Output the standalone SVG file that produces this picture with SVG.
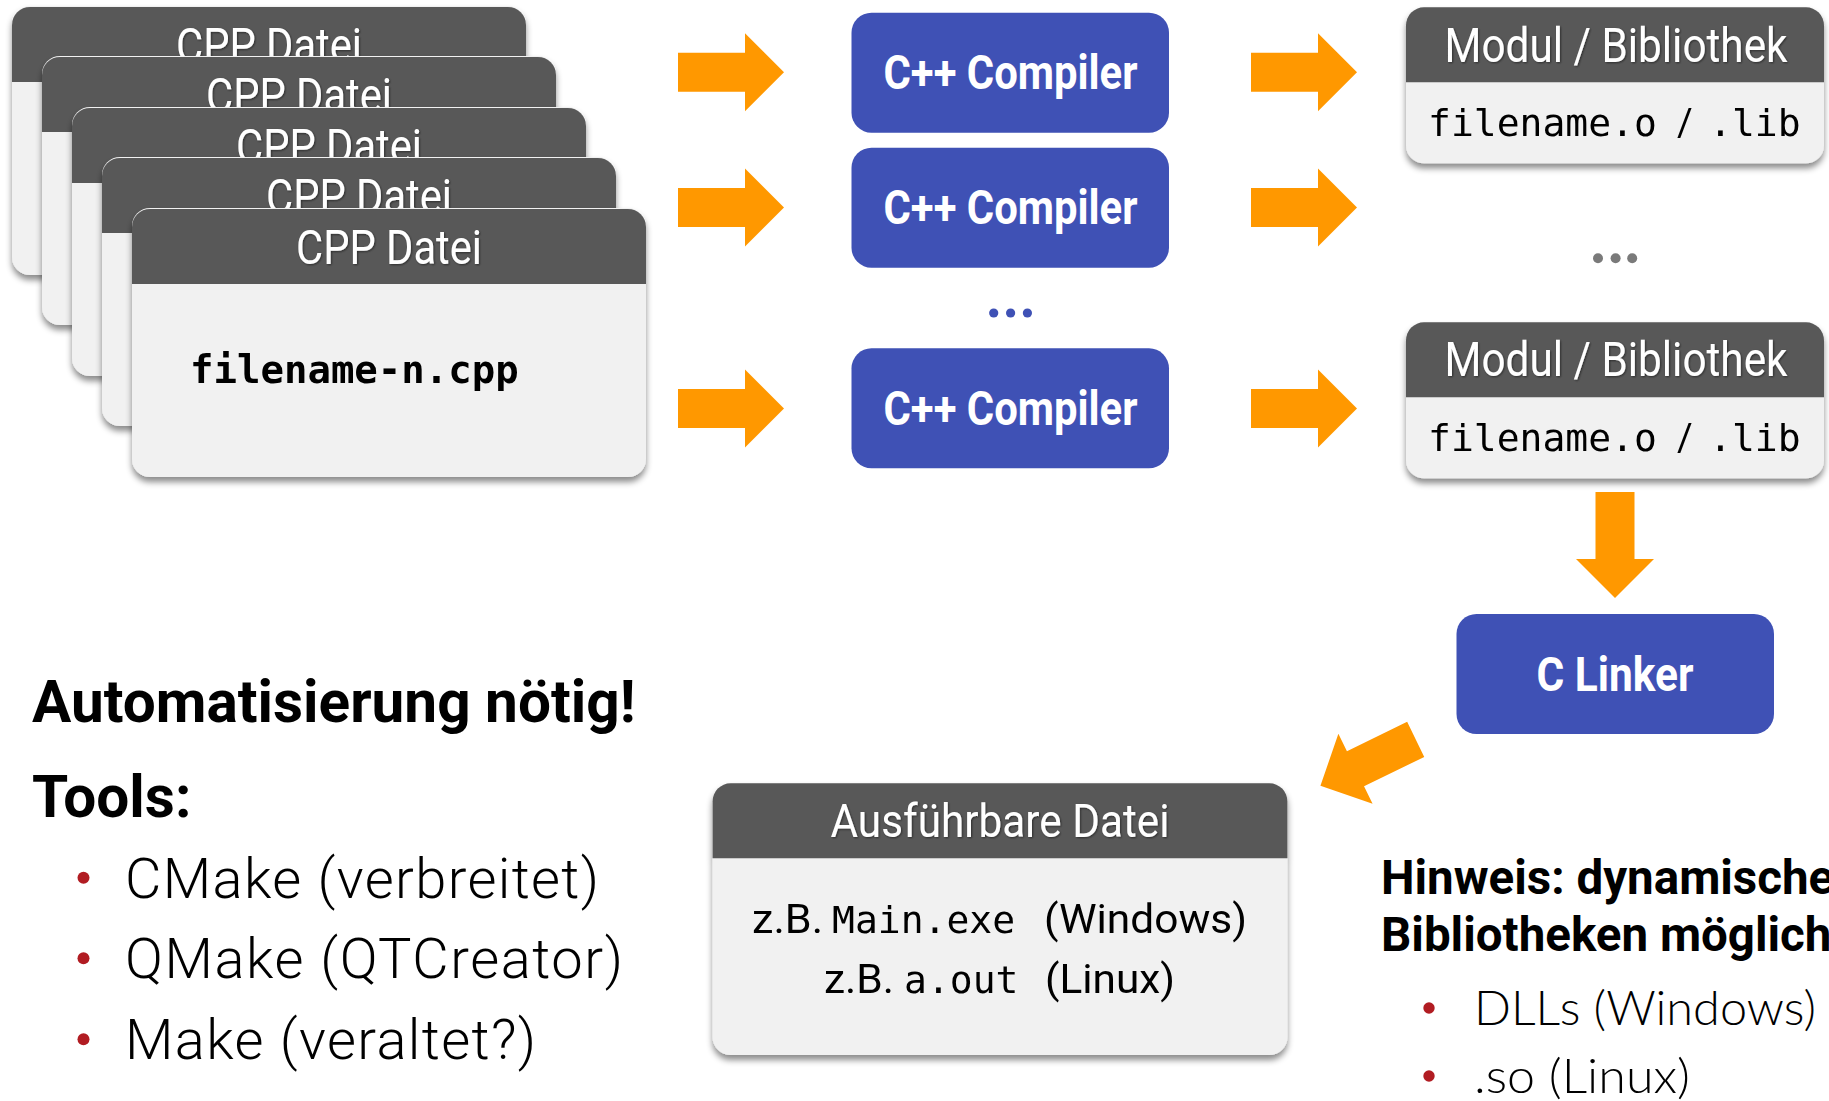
<svg xmlns="http://www.w3.org/2000/svg" width="1829" height="1101" viewBox="0 0 1829 1101">
<defs>
<style>
.hdr{fill:#595959}
.body{fill:#f1f1f1}
.htxt{font-family:Roboto,"Liberation Sans",sans-serif;fill:#fff;text-anchor:middle}
.btxt{font-family:Roboto,"Liberation Sans",sans-serif;font-weight:bold;fill:#fff;text-anchor:middle}
.blue{fill:#3f51b5}
.mono{font-family:"DejaVu Sans Mono","Liberation Mono",monospace;fill:#000}
.prop{font-family:Roboto,"Liberation Sans",sans-serif;fill:#000}
.arrow{fill:#ff9800}
.dotr{fill:#b11c22}
</style>
<filter id="sh" x="-10%" y="-10%" width="120%" height="130%">
<feDropShadow dx="0" dy="5" stdDeviation="3" flood-color="#000" flood-opacity="0.45"/>
</filter>
<filter id="tsh" x="-10%" y="-20%" width="120%" height="140%">
<feDropShadow dx="1" dy="1" stdDeviation="1" flood-color="#000" flood-opacity="0.5"/>
</filter>
<path id="arr" d="M0,-19.5 H67 V-39 L106,0 L67,39 V19.5 H0 Z"/>
</defs>
<rect width="1829" height="1101" fill="#fff"/>

<g id="cpp1" filter="url(#sh)">
<rect class="body" x="12" y="6" width="514" height="269" rx="18"/>
<path class="hdr" d="M12,82 V25 A18,18 0 0 1 30,7 H508 A18,18 0 0 1 526,25 V82 Z"/>
<text class="htxt" x="269" y="61.5" font-size="48" textLength="186" lengthAdjust="spacingAndGlyphs" filter="url(#tsh)">CPP Datei</text>
</g>
<g id="cpp2" filter="url(#sh)">
<rect class="body" x="42" y="56" width="514" height="269" rx="18"/>
<path class="hdr" d="M42,132 V75 A18,18 0 0 1 60,57 H538 A18,18 0 0 1 556,75 V132 Z"/>
<text class="htxt" x="299" y="111.5" font-size="48" textLength="186" lengthAdjust="spacingAndGlyphs" filter="url(#tsh)">CPP Datei</text>
</g>
<g id="cpp3" filter="url(#sh)">
<rect class="body" x="72" y="107" width="514" height="269" rx="18"/>
<path class="hdr" d="M72,183 V126 A18,18 0 0 1 90,108 H568 A18,18 0 0 1 586,126 V183 Z"/>
<text class="htxt" x="329" y="162.5" font-size="48" textLength="186" lengthAdjust="spacingAndGlyphs" filter="url(#tsh)">CPP Datei</text>
</g>
<g id="cpp4" filter="url(#sh)">
<rect class="body" x="102" y="157" width="514" height="269" rx="18"/>
<path class="hdr" d="M102,233 V176 A18,18 0 0 1 120,158 H598 A18,18 0 0 1 616,176 V233 Z"/>
<text class="htxt" x="359" y="212.5" font-size="48" textLength="186" lengthAdjust="spacingAndGlyphs" filter="url(#tsh)">CPP Datei</text>
</g>
<g id="cpp5" filter="url(#sh)">
<rect class="body" x="132" y="208" width="514" height="269" rx="18"/>
<path class="hdr" d="M132,284 V227 A18,18 0 0 1 150,209 H628 A18,18 0 0 1 646,227 V284 Z"/>
<text class="htxt" x="389" y="263.5" font-size="48" textLength="186" lengthAdjust="spacingAndGlyphs" filter="url(#tsh)">CPP Datei</text>
<text class="mono" x="190" y="383" font-size="39" font-weight="bold">filename-n.cpp</text>
</g>

<g id="compiler1">
<rect class="blue" x="851.5" y="12.7" width="317.5" height="120" rx="20"/>
<text class="btxt" x="1010.5" y="89" font-size="48" textLength="254" lengthAdjust="spacingAndGlyphs">C++ Compiler</text>
</g>
<g id="compiler2">
<rect class="blue" x="851.5" y="147.7" width="317.5" height="120" rx="20"/>
<text class="btxt" x="1010.5" y="224" font-size="48" textLength="254" lengthAdjust="spacingAndGlyphs">C++ Compiler</text>
</g>
<g id="dots-compiler">
<circle class="blue" cx="993.7" cy="313" r="4.6"/>
<circle class="blue" cx="1010.6" cy="313" r="4.6"/>
<circle class="blue" cx="1027.4" cy="313" r="4.6"/>
</g>
<g id="compiler3">
<rect class="blue" x="851.5" y="348.3" width="317.5" height="120" rx="20"/>
<text class="btxt" x="1010.5" y="424.6" font-size="48" textLength="254" lengthAdjust="spacingAndGlyphs">C++ Compiler</text>
</g>

<g id="modul1" filter="url(#sh)">
<rect class="body" x="1406" y="7.3" width="418" height="156" rx="18"/>
<path class="hdr" d="M1406,82.3 V25.3 A18,18 0 0 1 1424,7.3 H1806 A18,18 0 0 1 1824,25.3 V82.3 Z"/>
<text class="htxt" x="1616" y="61.7" font-size="48" textLength="343" lengthAdjust="spacingAndGlyphs" filter="url(#tsh)">Modul / Bibliothek</text>
<text y="135.7" font-size="38"><tspan class="mono" x="1428">filename.o</tspan><tspan class="prop" x="1677">/</tspan><tspan class="mono" x="1709">.lib</tspan></text>
</g>
<g id="dots-modul">
<circle cx="1598" cy="258.3" r="5" fill="#7a7a7a"/>
<circle cx="1615.6" cy="258.3" r="5" fill="#7a7a7a"/>
<circle cx="1632.2" cy="258.3" r="5" fill="#7a7a7a"/>
</g>
<g id="modul2" filter="url(#sh)">
<rect class="body" x="1406" y="322.3" width="418" height="156" rx="18"/>
<path class="hdr" d="M1406,397.3 V340.3 A18,18 0 0 1 1424,322.3 H1806 A18,18 0 0 1 1824,340.3 V397.3 Z"/>
<text class="htxt" x="1616" y="376" font-size="48" textLength="343" lengthAdjust="spacingAndGlyphs" filter="url(#tsh)">Modul / Bibliothek</text>
<text y="450.7" font-size="38"><tspan class="mono" x="1428">filename.o</tspan><tspan class="prop" x="1677">/</tspan><tspan class="mono" x="1709">.lib</tspan></text>
</g>

<g id="linker">
<rect class="blue" x="1456.5" y="614" width="317.5" height="120" rx="20"/>
<text class="btxt" x="1615" y="691" font-size="49" textLength="157" lengthAdjust="spacingAndGlyphs">C Linker</text>
</g>

<g id="exe" filter="url(#sh)">
<rect class="body" x="712.6" y="783.3" width="574.8" height="271.7" rx="18"/>
<path class="hdr" d="M712.6,858.3 V801.3 A18,18 0 0 1 730.6,783.3 H1269.4 A18,18 0 0 1 1287.4,801.3 V858.3 Z"/>
<text class="htxt" x="1000" y="837.3" font-size="47" textLength="339" lengthAdjust="spacingAndGlyphs" filter="url(#tsh)">Ausführbare Datei</text>
<text class="prop" x="752" y="933.3" font-size="40" textLength="71" lengthAdjust="spacingAndGlyphs">z.B.</text>
<text class="mono" x="832" y="933.3" font-size="38">Main.exe</text>
<text class="prop" x="1044" y="933.3" font-size="40" textLength="203" lengthAdjust="spacingAndGlyphs">(Windows)</text>
<text class="prop" x="824" y="993.3" font-size="40" textLength="70" lengthAdjust="spacingAndGlyphs">z.B.</text>
<text class="mono" x="904" y="993.3" font-size="38">a.out</text>
<text class="prop" x="1045" y="993.3" font-size="40" textLength="130" lengthAdjust="spacingAndGlyphs">(Linux)</text>
</g>

<g id="connectors">
<use href="#arr" class="arrow" transform="translate(678,72.2)"/>
<use href="#arr" class="arrow" transform="translate(678,207.5)"/>
<use href="#arr" class="arrow" transform="translate(678,408.5)"/>
<use href="#arr" class="arrow" transform="translate(1251,72.2)"/>
<use href="#arr" class="arrow" transform="translate(1251,207.5)"/>
<use href="#arr" class="arrow" transform="translate(1251,408.5)"/>
<use href="#arr" class="arrow" transform="translate(1615,492) rotate(90)"/>
<use href="#arr" class="arrow" transform="translate(1415.7,739.4) rotate(154)"/>
</g>

<g id="automation-text">
<text class="prop" x="32" y="721.7" font-size="58.5" font-weight="bold">Automatisierung nötig!</text>
<text class="prop" x="32" y="816.7" font-size="58.5" font-weight="bold">Tools:</text>
<circle class="dotr" cx="83.5" cy="877.7" r="6"/>
<circle class="dotr" cx="83.5" cy="958.3" r="6"/>
<circle class="dotr" cx="83.5" cy="1039.3" r="6"/>
<text class="prop" x="125" y="898.3" font-size="56" font-weight="300" textLength="474" lengthAdjust="spacing">CMake (verbreitet)</text>
<text class="prop" x="125" y="978.3" font-size="56" font-weight="300" textLength="498" lengthAdjust="spacing">QMake (QTCreator)</text>
<text class="prop" x="125" y="1059.3" font-size="56" font-weight="300" textLength="411" lengthAdjust="spacing">Make (veraltet?)</text>
</g>

<g id="hint-text">
<text class="prop" x="1381" y="894" font-size="47.5" font-weight="bold">Hinweis: dynamische</text>
<text class="prop" x="1381" y="951" font-size="47.5" font-weight="bold">Bibliotheken möglich</text>
<circle class="dotr" cx="1429" cy="1008" r="5.7"/>
<circle class="dotr" cx="1429" cy="1076" r="5.7"/>
<text x="1474" y="1025" font-size="47" font-weight="300" font-family="Lato, 'Open Sans', sans-serif" textLength="342" lengthAdjust="spacingAndGlyphs">DLLs (Windows)</text>
<text x="1474" y="1093" font-size="47" font-weight="300" font-family="Lato, 'Open Sans', sans-serif" textLength="216" lengthAdjust="spacingAndGlyphs">.so (Linux)</text>
</g>
</svg>
